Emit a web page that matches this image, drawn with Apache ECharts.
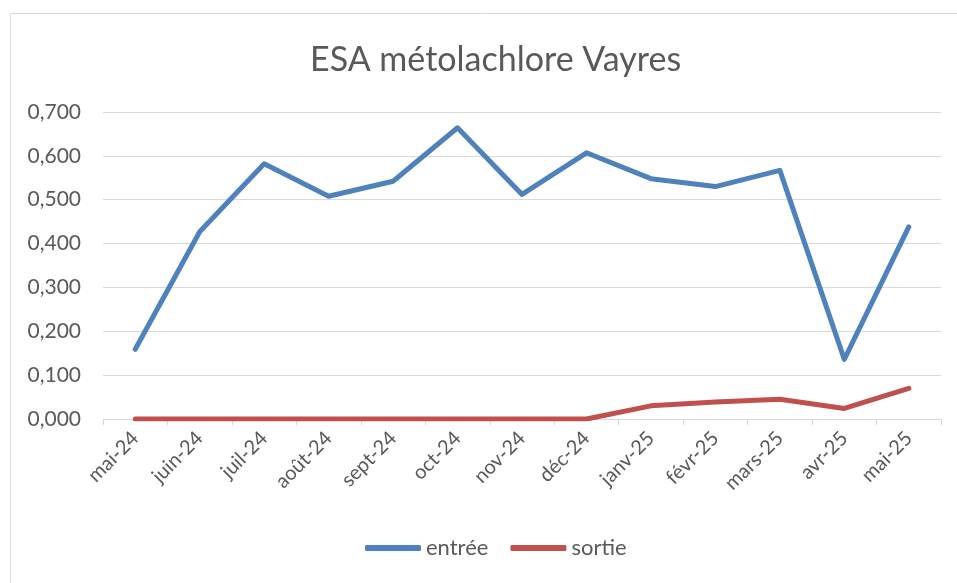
<!DOCTYPE html>
<html>
<head>
<meta charset="utf-8">
<script src="https://cdn.jsdelivr.net/npm/echarts@6/dist/echarts.min.js"></script>
<style>
    html, body { margin: 0; padding: 0; background: #fff; }
    #chart { width: 957px; height: 583px; }
</style>
</head>
<body>
<div id="chart"></div>
<script>
    // mois
    var months = ['mai-24', 'juin-24', 'juil-24', 'août-24', 'sept-24', 'oct-24', 'nov-24',
        'déc-24', 'janv-25', 'févr-25', 'mars-25', 'avr-25', 'mai-25'];

    var entree = [0.159, 0.427, 0.582, 0.508, 0.542, 0.664, 0.512, 0.607, 0.548, 0.530, 0.567, 0.136, 0.438];
    var sortie = [0, 0, 0, 0, 0, 0, 0, 0, 0.030, 0.039, 0.045, 0.024, 0.070];

    var font = 'Lato, "Open Sans", sans-serif';
    var grey = '#595959';

    var chart = echarts.init(document.getElementById('chart'));

    var option = {
        backgroundColor: '#fff',
        animation: false,
        title: {
            text: 'ESA métolachlore Vayres',
            left: 305,
            top: 38,
            textStyle: {
                fontFamily: font,
                fontSize: 34,
                fontWeight: 'normal',
                color: grey
            }
        },
        graphic: [{
            type: 'rect',
            shape: { x: 10.5, y: 13.5, width: 1000, height: 700 },
            style: { fill: 'none', stroke: '#d9d9d9', lineWidth: 1 },
            silent: true
        }],
        legend: {
            bottom: 19,
            left: 360,
            icon: 'roundRect',
            itemWidth: 56,
            itemHeight: 6,
            itemGap: 22,
            textStyle: {
                fontFamily: font,
                fontSize: 22,
                color: grey,
                padding: [0, 0, 0, 0]
            },
            data: ['entrée', 'sortie']
        },
        grid: {
            left: 103,
            right: 16,
            top: 112,
            bottom: 164
        },
        xAxis: {
            type: 'category',
            data: months,
            boundaryGap: true,
            axisLine: { lineStyle: { color: '#d9d9d9', width: 1 } },
            axisTick: { show: true, length: 6, lineStyle: { color: '#d9d9d9' } },
            axisLabel: {
                rotate: 45,
                interval: 0,
                margin: 16,
                fontFamily: font,
                fontSize: 20,
                color: grey
            }
        },
        yAxis: {
            type: 'value',
            min: 0,
            max: 0.7,
            interval: 0.1,
            axisLine: { show: false },
            axisTick: { show: false },
            splitLine: { lineStyle: { color: '#d9d9d9', width: 1 } },
            axisLabel: {
                margin: 22,
                fontFamily: font,
                fontSize: 21,
                color: grey,
                formatter: function (v) {
                    return v.toFixed(3).replace('.', ',');
                }
            }
        },
        series: [
            {
                name: 'entrée',
                type: 'line',
                data: entree,
                symbol: 'none',
                itemStyle: { color: '#4f81bd' },
                lineStyle: { width: 5, color: '#4f81bd', cap: 'round', join: 'round' }
            },
            {
                name: 'sortie',
                type: 'line',
                data: sortie,
                symbol: 'none',
                itemStyle: { color: '#c0504d' },
                lineStyle: { width: 5, color: '#c0504d', cap: 'round', join: 'round' }
            }
        ]
    };

    chart.setOption(option);
</script>
</body>
</html>
